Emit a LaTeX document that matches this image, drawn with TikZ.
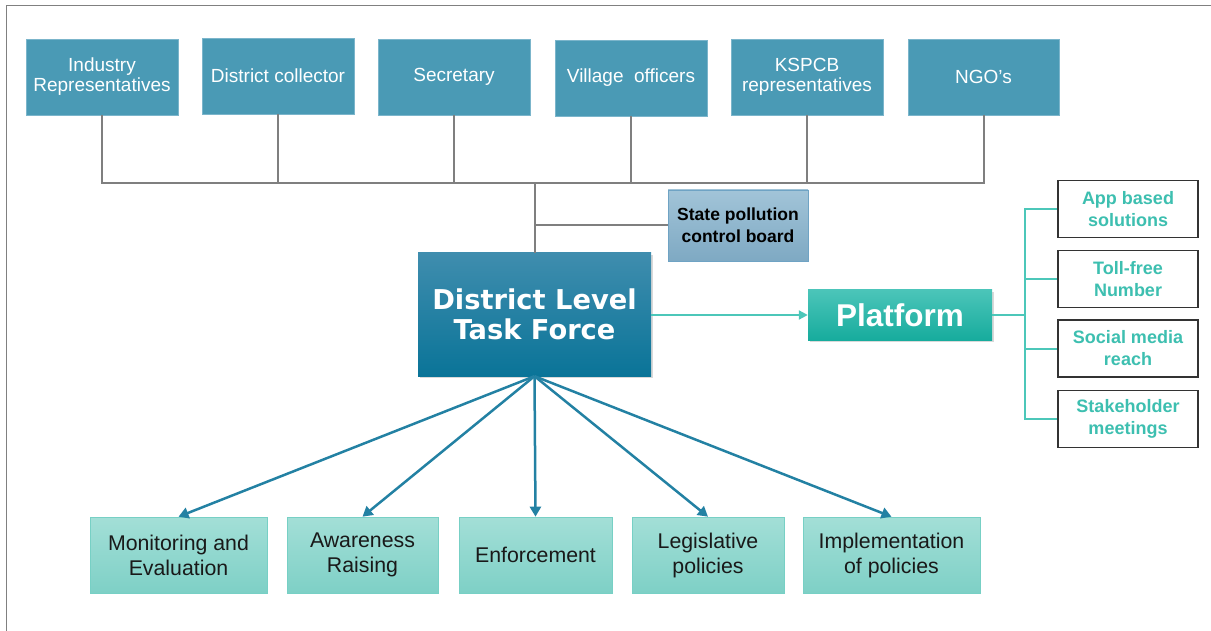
\documentclass[tikz,border=0pt]{standalone}
\usepackage{fontspec}
\setmainfont{Liberation Sans}
\newfontfamily\dvfont{DejaVu Sans}
\usetikzlibrary{arrows.meta,shadows}
\definecolor{topblue}{HTML}{4A9AB5}
\definecolor{topborder}{HTML}{7BB5CB}
\definecolor{spcbtop}{HTML}{A2C4D8}
\definecolor{spcbbot}{HTML}{7EA9C3}
\definecolor{spcbborder}{HTML}{6FA3C4}
\definecolor{tftop}{HTML}{3F8DAE}
\definecolor{tfbot}{HTML}{0A7498}
\definecolor{plattop}{HTML}{4BC5B9}
\definecolor{platbot}{HTML}{17AC9D}
\definecolor{tealline}{HTML}{4CC7B9}
\definecolor{tealtext}{HTML}{3DBFB0}
\definecolor{childborder}{HTML}{333333}
\definecolor{bottop}{HTML}{A3DFD7}
\definecolor{botbot}{HTML}{7ED0C6}
\definecolor{botborder}{HTML}{77D0C5}
\definecolor{arrowblue}{HTML}{2381A3}
\definecolor{treegray}{HTML}{7F7F7F}
\definecolor{framegray}{HTML}{808080}
\begin{document}
\begin{tikzpicture}[x=1pt,y=-1pt,
  topbox/.style={draw=topborder, line width=0.6pt, fill=topblue, text=white,
    minimum width=152pt, minimum height=76pt, inner sep=0pt, align=center,
    font=\fontsize{19}{20}\selectfont},
  spcbbox/.style={draw=spcbborder, line width=0.6pt, top color=spcbtop, bottom color=spcbbot,
    text=black, minimum width=140pt, minimum height=71pt, inner sep=0pt, align=center,
    font=\bfseries\fontsize{17.5}{22}\selectfont},
  tfbox/.style={top color=tftop, bottom color=tfbot, draw=none, text=white,
    minimum width=233pt, minimum height=123pt, inner sep=0pt, align=center,
    font=\dvfont\bfseries\fontsize{27.3}{30}\selectfont,
    drop shadow={opacity=0.3, shadow xshift=2pt, shadow yshift=-2pt}},
  platbox/.style={top color=plattop, bottom color=platbot, draw=none, text=white,
    minimum width=184pt, minimum height=50pt, inner sep=0pt, align=center,
    font=\bfseries\fontsize{31.5}{34}\selectfont,
    drop shadow={opacity=0.3, shadow xshift=2pt, shadow yshift=-2pt}},
  childbox/.style={draw=childborder, line width=1.6pt, fill=white, text=tealtext,
    minimum width=140pt, minimum height=57pt, inner sep=0pt, align=center,
    font=\bfseries\fontsize{18}{22}\selectfont},
  botbox/.style={draw=botborder, line width=0.6pt, top color=bottop, bottom color=botbot,
    text=black!90, minimum height=76pt, inner sep=0pt, align=center,
    font=\fontsize{21.3}{25}\selectfont},
  grayline/.style={draw=treegray, line width=2pt},
  tealconn/.style={draw=tealline, line width=2pt},
  downarrow/.style={draw=arrowblue, line width=2.5pt, -{Triangle[length=10pt,width=11pt]}},
  platarrow/.style={draw=tealline, line width=2pt, -{Triangle[length=9pt,width=9pt]}}
]
\useasboundingbox (0,0) rectangle (1211,631);
% outer frame
\draw[framegray, line width=1.6pt] (6.5,631) -- (6.5,5.5) -- (1211,5.5);

% top row
\node[topbox] (ind) at (102,77) {Industry\\Representatives};
\node[topbox] (dc) at (278,76) {District collector};
\node[topbox] (sec) at (454,77) {Secretary};
\node[topbox] (vil) at (631,78) {Village\ \ officers};
\node[topbox] (ksp) at (807,77) {KSPCB\\representatives};
\node[topbox, minimum width=151pt] (ngo) at (983.5,77) {NGO’s};

% middle
\node[spcbbox] (spcb) at (738,225.5) {State pollution\\control board};
\node[tfbox] (tf) at (534.5,314.5) {District Level\\Task Force};
\node[platbox] (plat) at (900,315) {Platform};

% platform children
\node[childbox] (app) at (1128,209) {App based\\solutions};
\node[childbox] (toll) at (1128,279) {Toll-free\\Number};
\node[childbox] (soc) at (1128,348.5) {Social media\\reach};
\node[childbox] (stk) at (1128,419) {Stakeholder\\meetings};

% bottom row
\node[botbox, minimum width=177pt] (mon) at (178.5,555) {Monitoring and\\Evaluation};
\node[botbox, minimum width=151pt] (awa) at (362.5,555) {Awareness\\Raising};
\node[botbox, minimum width=153pt] (enf) at (535.5,555) {Enforcement};
\node[botbox, minimum width=152pt] (leg) at (708,555) {Legislative\\policies};
\node[botbox, minimum width=177pt] (imp) at (891.5,555) {Implementation\\of policies};

% gray tree
\coordinate (bus) at (0,183);
\draw[grayline] (ind.south) -- (ind.south |- bus) -- (ngo.south |- bus) -- (ngo.south);
\draw[grayline] (dc.south) -- (dc.south |- bus);
\draw[grayline] (sec.south) -- (sec.south |- bus);
\draw[grayline] (vil.south) -- (vil.south |- bus);
\draw[grayline] (ksp.south) -- (ksp.south |- bus);
\draw[grayline] (tf.north |- bus) -- (tf.north);
\draw[grayline] (tf.north |- spcb.west) -- (spcb.west);

% platform
\draw[platarrow] (tf.east |- plat.west) -- (plat.west);
\coordinate (pj) at (1025,315);
\draw[tealconn] (plat.east) -- (pj);
\draw[tealconn] (app.west) -- (app.west -| pj) -- (stk.west -| pj) -- (stk.west);
\draw[tealconn] (toll.west) -- (toll.west -| pj);
\draw[tealconn] (soc.west) -- (soc.west -| pj);

% arrows down
\draw[downarrow] (tf.south) -- (mon.north);
\draw[downarrow] (tf.south) -- (awa.north);
\draw[downarrow] (tf.south) -- (enf.north);
\draw[downarrow] (tf.south) -- (leg.north);
\draw[downarrow] (tf.south) -- (imp.north);
\end{tikzpicture}
\end{document}
